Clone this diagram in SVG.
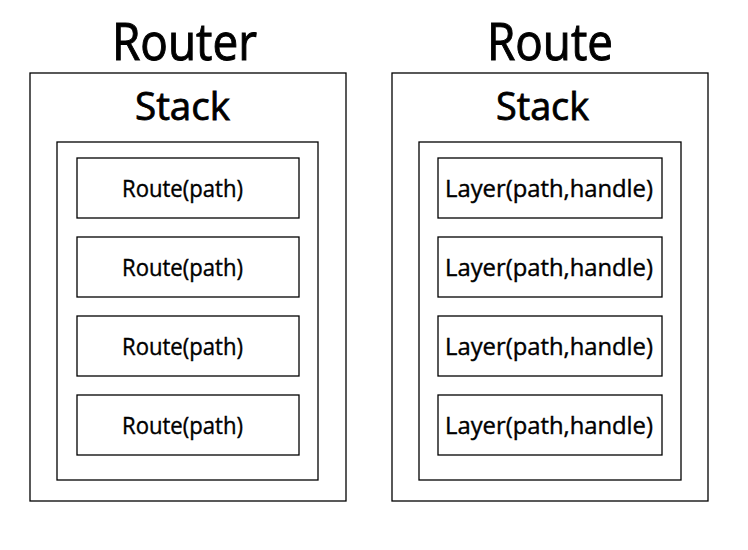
<svg xmlns="http://www.w3.org/2000/svg" width="748" height="550" viewBox="0 0 748 550">
<style>
rect{fill:none;stroke:#000;stroke-width:1.3}
text{font-family:"Open Sans","Noto Sans",sans-serif;fill:#000;text-anchor:middle;stroke:#000}
.t{font-size:52px;stroke-width:1}
.s{font-size:38px;stroke-width:0.8}
.i{font-size:23.5px;stroke-width:0.4}
</style>
<rect x="0" y="0" width="748" height="550" style="fill:#fff;stroke:none"/>
<g id="router">
<text class="t" x="184.5" y="60" textLength="145" lengthAdjust="spacingAndGlyphs">Router</text>
<rect x="30" y="73" width="316" height="428"/>
<text class="s" x="182.5" y="120" textLength="95" lengthAdjust="spacingAndGlyphs">Stack</text>
<rect x="57" y="142" width="261" height="338"/>
</g>
<g id="route">
<text class="t" x="550" y="60" textLength="126" lengthAdjust="spacingAndGlyphs">Route</text>
<rect x="392" y="73" width="316" height="428"/>
<text class="s" x="542.5" y="120" textLength="93" lengthAdjust="spacingAndGlyphs">Stack</text>
<rect x="419" y="142" width="262" height="338"/>
</g>
<g id="r1"><rect x="77" y="158" width="222" height="60"/><text class="i" x="182.5" y="197" textLength="121" lengthAdjust="spacingAndGlyphs">Route(path)</text></g>
<g id="r2"><rect x="77" y="237" width="222" height="60"/><text class="i" x="182.5" y="276" textLength="121" lengthAdjust="spacingAndGlyphs">Route(path)</text></g>
<g id="r3"><rect x="77" y="316" width="222" height="60"/><text class="i" x="182.5" y="355" textLength="121" lengthAdjust="spacingAndGlyphs">Route(path)</text></g>
<g id="r4"><rect x="77" y="395" width="222" height="60"/><text class="i" x="182.5" y="434" textLength="121" lengthAdjust="spacingAndGlyphs">Route(path)</text></g>
<g id="l1"><rect x="438" y="158" width="224" height="60"/><text class="i" x="549" y="197" textLength="208" lengthAdjust="spacingAndGlyphs">Layer(path,handle)</text></g>
<g id="l2"><rect x="438" y="237" width="224" height="60"/><text class="i" x="549" y="276" textLength="208" lengthAdjust="spacingAndGlyphs">Layer(path,handle)</text></g>
<g id="l3"><rect x="438" y="316" width="224" height="60"/><text class="i" x="549" y="355" textLength="208" lengthAdjust="spacingAndGlyphs">Layer(path,handle)</text></g>
<g id="l4"><rect x="438" y="395" width="224" height="60"/><text class="i" x="549" y="434" textLength="208" lengthAdjust="spacingAndGlyphs">Layer(path,handle)</text></g>
<g id="connectors"></g>
</svg>
